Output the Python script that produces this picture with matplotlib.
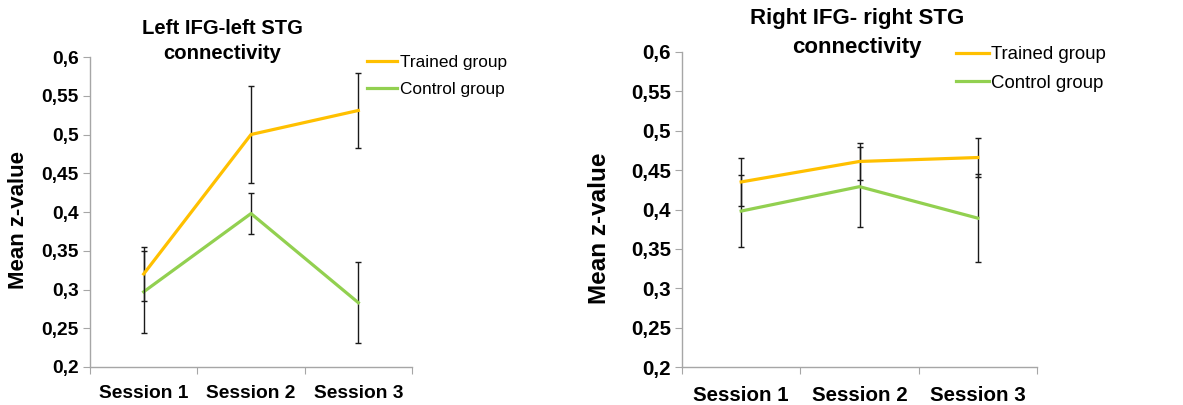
import numpy as np
import matplotlib
matplotlib.use("Agg")
import matplotlib.pyplot as plt

plt.rcParams['font.family'] = ['Liberation Sans', 'DejaVu Sans']

# Data
sessions = ['Session 1', 'Session 2', 'Session 3']
series_names = ['Trained group', 'Control group']

left_trained = [0.320, 0.500, 0.531]
left_trained_err = [0.035, 0.062, 0.048]
left_control = [0.297, 0.398, 0.283]
left_control_err = [0.053, 0.026, 0.052]

right_trained = [0.435, 0.461, 0.466]
right_trained_err = [0.030, 0.024, 0.025]
right_control = [0.398, 0.429, 0.389]
right_control_err = [0.046, 0.051, 0.056]

yticks = [0.2, 0.25, 0.3, 0.35, 0.4, 0.45, 0.5, 0.55, 0.6]
ytick_labels = ['0,2', '0,25', '0,3', '0,35', '0,4', '0,45', '0,5', '0,55', '0,6']

titles = ['Left IFG-left STG\nconnectivity', 'Right IFG- right STG\nconnectivity']

orange = '#FFC000'
green = '#92D050'
axis_gray = '#A6A6A6'

W, H = 1183, 405
fig = plt.figure(figsize=(W / 100, H / 100), dpi=100)

def px_axes(x0, y_top, x1, y_bot):
    return [x0 / W, 1 - y_bot / H, (x1 - x0) / W, (y_bot - y_top) / H]

ax_left = fig.add_axes(px_axes(90, 57, 412, 367))
ax_right = fig.add_axes(px_axes(682, 52, 1037, 367))


def draw_panel(ax, trained, trained_err, control, control_err, fs, xpad):
    x = np.arange(len(sessions))
    ax.errorbar(x, control, yerr=control_err, color=green, lw=2.3,
                ecolor='#1a1a1a', elinewidth=1.0, capsize=2.4, capthick=1.0,
                label=series_names[1], zorder=2)
    ax.errorbar(x, trained, yerr=trained_err, color=orange, lw=2.3,
                ecolor='#1a1a1a', elinewidth=1.0, capsize=2.4, capthick=1.0,
                label=series_names[0], zorder=3)
    ax.set_xlim(-0.5, len(sessions) - 0.5)
    ax.set_ylim(0.2, 0.6)
    ax.set_yticks(yticks)
    ax.set_yticklabels(ytick_labels, fontsize=fs, fontweight='bold')
    ax.set_xticks(np.arange(len(sessions) + 1) - 0.5)
    ax.set_xticklabels([])
    ax.set_xticks(x, minor=True)
    ax.set_xticklabels(sessions, minor=True, fontsize=fs, fontweight='bold')
    ax.tick_params(axis='x', which='minor', length=0, pad=xpad)
    ax.tick_params(axis='x', which='major', length=5, color=axis_gray, direction='out')
    ax.tick_params(axis='y', length=5, color=axis_gray, direction='out', pad=3)
    for side in ['top', 'right']:
        ax.spines[side].set_visible(False)
    for side in ['left', 'bottom']:
        ax.spines[side].set_color(axis_gray)
        ax.spines[side].set_linewidth(1.0)
    ax.patch.set_alpha(0)


draw_panel(ax_left, left_trained, left_trained_err, left_control, left_control_err, 13.8, 13)
draw_panel(ax_right, right_trained, right_trained_err, right_control, right_control_err, 14.8, 14)

# titles
fig.text(222 / W, 1 - 41 / H, titles[0], ha='center', va='center',
         fontsize=14.6, fontweight='bold', linespacing=1.4)
fig.text(857 / W, 1 - 33 / H, titles[1], ha='center', va='center',
         fontsize=16, fontweight='bold', linespacing=1.45)

# y labels
fig.text(19 / W, 1 - 220 / H, 'Mean z-value', rotation=90, ha='center', va='center',
         fontsize=16, fontweight='bold')
fig.text(599 / W, 1 - 228 / H, 'Mean z-value', rotation=90, ha='center', va='center',
         fontsize=17.5, fontweight='bold')

# legends
for ax, (lx, ly), sp, fs in [(ax_left, (367, 55), 0.7, 12.4), (ax_right, (956, 46), 0.62, 13.4)]:
    handles, labels = ax.get_legend_handles_labels()
    order = [1, 0]
    lines = [plt.Line2D([], [], color=h[0].get_color(), lw=2.3) for h in handles]
    ax.legend([lines[i] for i in order], [labels[i] for i in order],
              loc='upper left', bbox_to_anchor=(lx / W, 1 - ly / H),
              bbox_transform=fig.transFigure, frameon=False, fontsize=fs,
              handlelength=1.75, handletextpad=0.15, borderpad=0,
              borderaxespad=0, labelspacing=sp)

fig.savefig('out.png', dpi=100)
